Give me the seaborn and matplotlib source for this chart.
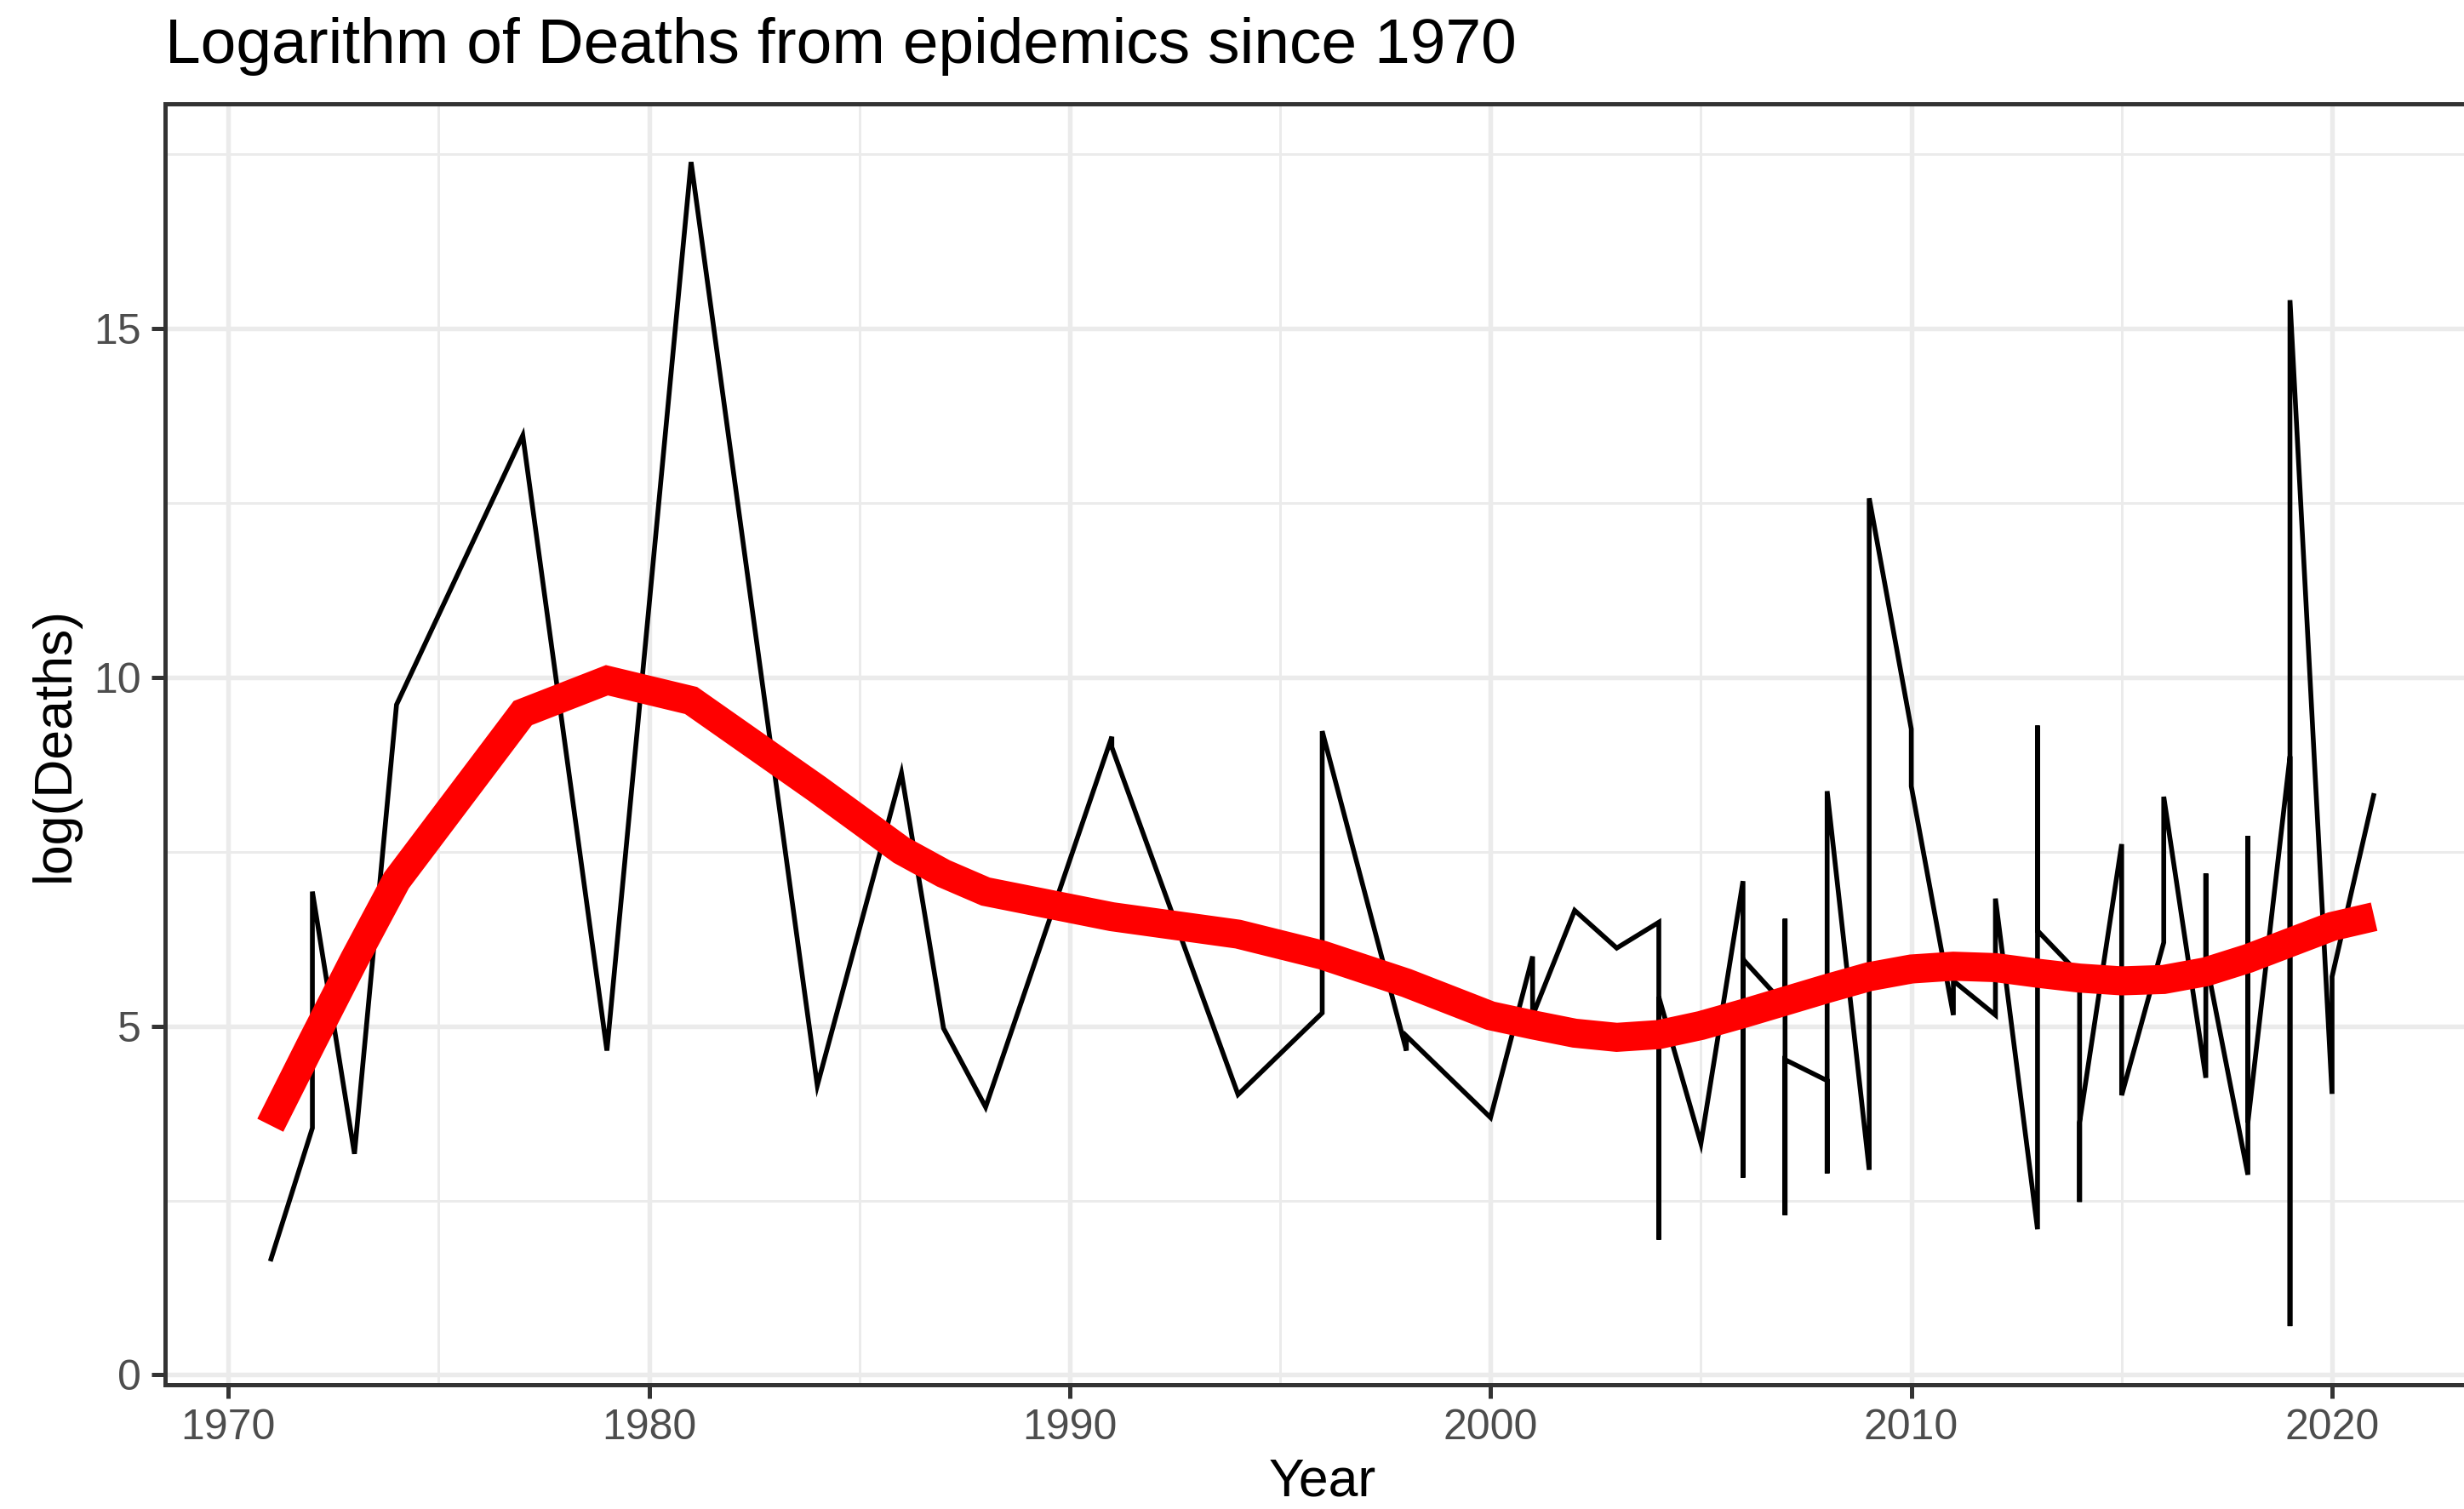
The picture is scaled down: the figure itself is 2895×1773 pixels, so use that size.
import numpy as np
import pandas as pd
import matplotlib
matplotlib.use("Agg")
import matplotlib.pyplot as plt
import seaborn as sns

# Yearly records of log(deaths) from epidemics, in the order they are listed
# (several outbreaks can share one year).
years = [
    1971, 1972, 1972, 1973, 1974, 1977, 1979, 1981, 1984, 1986, 1987, 1988,
    1991, 1991, 1994, 1996, 1996, 1998, 1998, 2000, 2001, 2001, 2002, 2003,
    2004, 2004, 2004, 2005, 2006, 2006, 2006, 2007, 2007, 2007, 2007,
    2008, 2008, 2008, 2009, 2009, 2010, 2010, 2011, 2011, 2012, 2012,
    2013, 2013, 2013, 2014, 2014, 2014, 2015, 2015, 2016, 2016,
    2017, 2017, 2017, 2018, 2018, 2018, 2019, 2019, 2019, 2020, 2020, 2021,
]
log_deaths = [
    1.63, 3.54, 6.93, 3.17, 9.61, 13.47, 4.65, 17.39, 4.15, 8.63, 4.97, 3.84,
    9.15, 9.00, 4.02, 5.19, 9.23, 4.65, 4.86, 3.69, 6.00, 5.15, 6.66, 6.12,
    6.49, 1.94, 5.42, 3.32, 7.08, 2.83, 5.96, 5.30, 6.54, 2.29, 4.52,
    4.22, 2.89, 8.37, 2.94, 12.57, 9.26, 8.44, 5.16, 5.65, 5.16, 6.83,
    2.09, 9.31, 6.37, 5.74, 2.48, 3.62, 7.61, 4.01, 6.20, 8.29,
    4.26, 7.19, 5.96, 2.87, 7.73, 3.62, 8.87, 0.70, 15.41, 4.03, 5.71, 8.34,
]

# Loess trend, fitted value at each recorded year
trend_years = [
    1971, 1972, 1973, 1974, 1977, 1979, 1981, 1984, 1986, 1987, 1988, 1991,
    1994, 1996, 1998, 2000, 2001, 2002, 2003, 2004, 2005, 2006, 2007, 2008,
    2009, 2010, 2011, 2012, 2013, 2014, 2015, 2016, 2017, 2018, 2019, 2020,
    2021,
]
trend_values = [
    3.58, 4.78, 5.96, 7.09, 9.49, 9.96, 9.67, 8.40, 7.52, 7.19, 6.93, 6.57,
    6.32, 6.02, 5.62, 5.15, 5.02, 4.90, 4.84, 4.88, 5.01, 5.18, 5.36, 5.54,
    5.71, 5.82, 5.86, 5.84, 5.76, 5.69, 5.65, 5.67, 5.78, 5.97, 6.20, 6.43,
    6.57,
]

x_major = [1970, 1980, 1990, 2000, 2010, 2020]
x_minor = [1975, 1985, 1995, 2005, 2015]
y_major = [0, 5, 10, 15]
y_minor = [2.5, 7.5, 12.5, 17.5]

title = "Logarithm of Deaths from epidemics since 1970"
x_title = "Year"
y_title = "log(Deaths)"

df = pd.DataFrame({"Year": years, "LogDeaths": log_deaths})
trend = pd.DataFrame({"Year": trend_years, "Fit": trend_values})

sns.set_style("white")
plt.rcParams["font.family"] = ["Liberation Sans", "DejaVu Sans"]

W, H, DPI = 2895, 1773, 300
fig = plt.figure(figsize=(W / DPI, H / DPI), dpi=DPI)

# panel box in pixels (the right edge runs slightly past the canvas)
left_px, right_px, top_px, bottom_px = 194, 2913, 122, 1626.5
ax = fig.add_axes([left_px / W, (H - bottom_px) / H,
                   (right_px - left_px) / W, (bottom_px - top_px) / H])

sns.lineplot(data=df, x="Year", y="LogDeaths", sort=False, estimator=None,
             color="black", linewidth=1.35, solid_capstyle="butt",
             solid_joinstyle="miter", ax=ax, zorder=3)
sns.lineplot(data=trend, x="Year", y="Fit", sort=False, estimator=None,
             color="#FF0000", linewidth=8.2, solid_capstyle="butt",
             solid_joinstyle="miter", ax=ax, zorder=4)

# 5% expansion on both scales
xr = df["Year"].max() - df["Year"].min()
yr = df["LogDeaths"].max() - df["LogDeaths"].min()
ax.set_xlim(df["Year"].min() - 0.05 * xr, df["Year"].max() + 0.05 * xr)
ax.set_ylim(df["LogDeaths"].min() - 0.05 * yr, df["LogDeaths"].max() + 0.05 * yr)

ax.set_xticks(x_major)
ax.set_xticks(x_minor, minor=True)
ax.set_yticks(y_major)
ax.set_yticks(y_minor, minor=True)
ax.set_xticklabels([str(v) for v in x_major])
ax.set_yticklabels([str(v) for v in y_major])

ax.grid(True, which="major", color="#EBEBEB", linewidth=1.3, zorder=0)
ax.grid(True, which="minor", color="#EBEBEB", linewidth=0.7, zorder=0)
ax.set_axisbelow(True)

ax.tick_params(which="major", length=3.75, width=1.2, color="#333333",
               labelsize=12, labelcolor="#4D4D4D", pad=3,
               bottom=True, left=True)
ax.tick_params(which="minor", length=0)
for side in ax.spines.values():
    side.set_visible(True)
    side.set_color("#333333")
    side.set_linewidth(1.2)

ax.set_xlabel("")
ax.set_ylabel("")

fig.text(left_px / W, (H - 74) / H, title, fontsize=18, color="black",
         ha="left", va="baseline")
fig.text((left_px + right_px) / 2 / W, (H - 1757) / H, x_title, fontsize=15,
         color="black", ha="center", va="baseline")
fig.text(64 / W, (H - 874) / H, y_title, fontsize=15,
         color="black", ha="center", va="center", rotation=90)

fig.savefig("out.png", dpi=DPI, facecolor="white")
